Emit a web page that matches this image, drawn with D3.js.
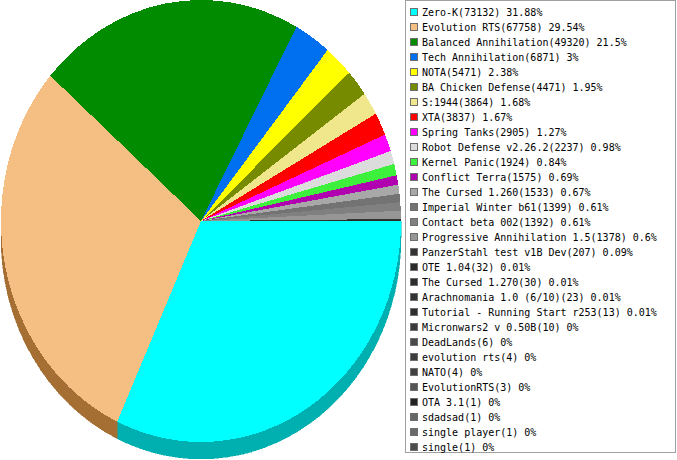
<!DOCTYPE html>
<html>
<head>
<meta charset="utf-8">
<script src="https://cdn.jsdelivr.net/npm/d3@7"></script>
<style>
  html, body { margin: 0; padding: 0; background: #fff; }
  svg { display: block; }
  .leg { font-family: "DejaVu Sans Mono", "Liberation Mono", monospace; font-size: 10px; fill: #000; }
</style>
</head>
<body>
<svg id="chart" width="677" height="460"></svg>
<script>
// mods and how often they were played
var names = [
  "Zero-K", "Evolution RTS", "Balanced Annihilation", "Tech Annihilation", "NOTA",
  "BA Chicken Defense", "S:1944", "XTA", "Spring Tanks", "Robot Defense v2.26.2",
  "Kernel Panic", "Conflict Terra", "The Cursed 1.260", "Imperial Winter b61", "Contact beta 002",
  "Progressive Annihilation 1.5", "PanzerStahl test v1B Dev", "OTE 1.04", "The Cursed 1.270",
  "Arachnomania 1.0 (6/10)", "Tutorial - Running Start r253", "Micronwars2 v 0.50B", "DeadLands",
  "evolution rts", "NATO", "EvolutionRTS", "OTA 3.1", "sdadsad", "single player", "single"
];
var counts = [
  73132, 67758, 49320, 6871, 5471,
  4471, 3864, 3837, 2905, 2237,
  1924, 1575, 1533, 1399, 1392,
  1378, 207, 32, 30,
  23, 13, 10, 6,
  4, 4, 3, 1, 1, 1, 1
];
var colors = [
  "#00ffff", "#f5be82", "#008b00", "#0070f0", "#ffff00",
  "#778b00", "#f0e68c", "#ff0000", "#ff00ff", "#dcdcdc",
  "#3cf03c", "#b000b0", "#a8a8a8", "#737373", "#808080",
  "#969696", "#333333", "#2a2a2a", "#2d2d2d",
  "#333333", "#2e2e2e", "#3a3a3a", "#4a4a4a",
  "#3c3c3c", "#404040", "#555555", "#222222", "#666666", "#6a6a6a", "#4c4c4c"
];

(function () {
  "use strict";
  var svg = d3.select("#chart");
  var cx = 201, cy = 221, rx = 200, ry = 221, depth = 17;
  var total = d3.sum(counts);
  var rows = names.map(function (n, i) { return { name: n, v: counts[i], c: colors[i] }; });

  // d3 angles run clockwise from 12 o'clock; start the pie at 3 o'clock
  var pie = d3.pie().sort(null).value(function (d) { return d.v; })
    .startAngle(Math.PI / 2).endAngle(Math.PI / 2 + 2 * Math.PI);
  var arcs = pie(rows);

  function th(a) { return a - Math.PI / 2; }
  function pt(t, dy) { return [cx + rx * Math.cos(t), cy + ry * Math.sin(t) + (dy || 0)]; }
  // the 3D side is a flat shade: each channel minus ~80
  function side(c) {
    var r = d3.rgb(c);
    return d3.rgb(Math.max(0, r.r - 80), Math.max(0, r.g - 80), Math.max(0, r.b - 80)).toString();
  }

  // ---- sides (front half only, 0..pi) ----
  var gs = svg.append("g").attr("shape-rendering", "crispEdges");
  arcs.forEach(function (d) {
    var a = Math.max(th(d.startAngle), 0), b = Math.min(th(d.endAngle), Math.PI);
    if (b <= a) return;
    var p0 = pt(a), p1 = pt(b), q1 = pt(b, depth), q0 = pt(a, depth);
    gs.append("path")
      .attr("d", "M" + p0 + "A" + rx + "," + ry + " 0 0 1 " + p1 +
        "L" + q1 + "A" + rx + "," + ry + " 0 0 0 " + q0 + "Z")
      .attr("fill", side(d.data.c)).attr("stroke", side(d.data.c)).attr("stroke-width", 0.5);
  });

  // ---- top faces ----
  var gt = svg.append("g").attr("shape-rendering", "crispEdges");
  arcs.forEach(function (d) {
    var a = th(d.startAngle), b = th(d.endAngle);
    var large = (b - a) > Math.PI ? 1 : 0;
    gt.append("path")
      .attr("d", "M" + cx + "," + cy + "L" + pt(a) + "A" + rx + "," + ry + " 0 " + large + " 1 " + pt(b) + "Z")
      .attr("fill", d.data.c);
  });

  // ---- legend ----
  var lx = 405.5, ly = 0.5, lw = 270, lh = 452, rowH = 15, y0 = 12;
  var y = d3.scalePoint().domain(d3.range(rows.length))
    .range([y0, y0 + rowH * (rows.length - 1)]);
  var gl = svg.append("g");
  gl.append("rect").attr("x", lx).attr("y", ly).attr("width", lw).attr("height", lh)
    .attr("fill", "#fff").attr("stroke", "#a0a0a0");
  rows.forEach(function (r, i) {
    var yc = y(i);
    gl.append("rect").attr("x", 410.5).attr("y", Math.round(yc - 4) + 0.5)
      .attr("width", 7).attr("height", 7)
      .attr("fill", r.c).attr("stroke", "#6e6e6e");
    gl.append("text").attr("class", "leg").attr("x", 422).attr("y", yc + 4)
      .text(r.name + "(" + r.v + ") " + (+(r.v / total * 100).toFixed(2)) + "%");
  });
})();
</script>
</body>
</html>
